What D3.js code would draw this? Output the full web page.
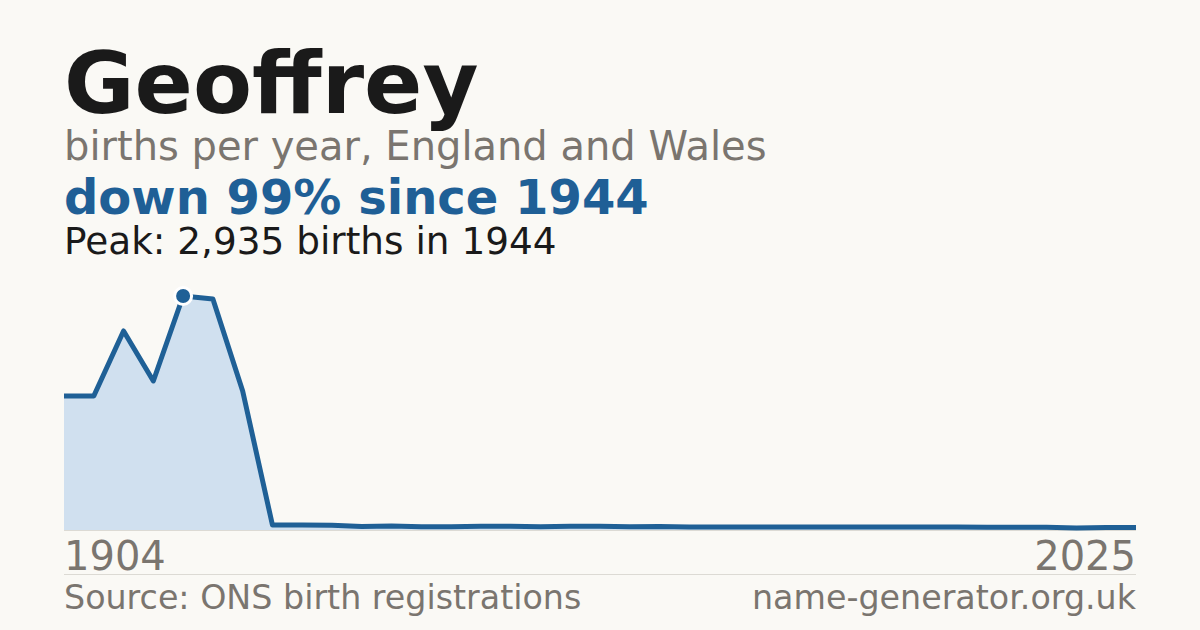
<!DOCTYPE html>
<html>
<head>
  <meta charset="UTF-8">
  <title>Geoffrey - births per year</title>
  <style>
    body { margin: 0; background: #faf9f5; }
    svg { display: block; font-family: "DejaVu Sans", sans-serif; }
  </style>
</head>
<body>
  <svg id="chart"></svg>
  <script src="https://d3js.org/d3.v7.min.js"></script>
  <script>
    // years on the x axis (evenly spaced points)
    var years = [1904, 1914, 1924, 1934, 1944, 1954, 1964, 1974, 1984, 1994,
                 1999, 2000, 2001, 2002, 2003, 2004, 2005, 2006, 2007, 2008,
                 2009, 2010, 2011, 2012, 2013, 2014, 2015, 2016, 2017, 2018,
                 2019, 2020, 2021, 2022, 2023, 2024, 2025];
    // births per year
    var births = [1681, 1681, 2497, 1869, 2935, 2898, 1744, 62, 62, 60,
                  45, 50, 42, 42, 48, 48, 40, 46, 46, 40,
                  45, 38, 38, 38, 38, 38, 38, 38, 38, 38,
                  38, 34, 34, 34, 26, 32, 32];
    var endLabels = ["1904", "2025"];

    var W = 1200, H = 630;
    var plotLeft = 64, plotRight = 1136, plotTop = 296, plotBottom = 530;

    var svg = d3.select("#chart")
      .attr("width", W)
      .attr("height", H);

    svg.append("rect")
      .attr("width", W).attr("height", H)
      .attr("fill", "#faf9f5");

    var data = years.map(function(y, i) { return {year: y, v: births[i]}; });

    var x = d3.scalePoint()
      .domain(years)
      .range([plotLeft, plotRight]);

    var y = d3.scaleLinear()
      .domain([0, d3.max(births)])
      .range([plotBottom, plotTop]);

    // 标题
    svg.append("text")
      .attr("x", plotLeft).attr("y", 113)
      .attr("font-size", 86).attr("font-weight", "bold")
      .attr("fill", "#1a1a1a")
      .text("Geoffrey");

    svg.append("text")
      .attr("x", plotLeft).attr("y", 160)
      .attr("font-size", 40)
      .attr("fill", "#7a756f")
      .text("births per year, England and Wales");

    svg.append("text")
      .attr("x", plotLeft).attr("y", 214)
      .attr("font-size", 48).attr("font-weight", "bold")
      .attr("fill", "#1f5f96")
      .text("down 99% since 1944");

    svg.append("text")
      .attr("x", plotLeft).attr("y", 254)
      .attr("font-size", 37.4)
      .attr("fill", "#1a1a1a")
      .text("Peak: 2,935 births in 1944");

    // area + line
    var area = d3.area()
      .x(function(d) { return x(d.year); })
      .y0(y(0))
      .y1(function(d) { return y(d.v); });

    var line = d3.line()
      .x(function(d) { return x(d.year); })
      .y(function(d) { return y(d.v); });

    svg.append("path")
      .datum(data)
      .attr("d", area)
      .attr("fill", "#d0e0ef");

    svg.append("line")
      .attr("x1", plotLeft).attr("x2", plotRight)
      .attr("y1", y(0) + 0.5).attr("y2", y(0) + 0.5)
      .attr("stroke", "#dcdad4").attr("stroke-width", 1);

    svg.append("path")
      .datum(data)
      .attr("d", line)
      .attr("fill", "none")
      .attr("stroke", "#1f6096")
      .attr("stroke-width", 5)
      .attr("stroke-linejoin", "round");

    // peak marker
    var peak = data[d3.maxIndex(births)];
    svg.append("circle")
      .attr("cx", x(peak.year)).attr("cy", y(peak.v))
      .attr("r", 8.5)
      .attr("fill", "#1f6096")
      .attr("stroke", "#ffffff")
      .attr("stroke-width", 3);

    // end year labels
    svg.append("text")
      .attr("x", plotLeft).attr("y", 570)
      .attr("font-size", 40).attr("fill", "#7a756f")
      .text(endLabels[0]);

    svg.append("text")
      .attr("x", plotRight).attr("y", 570)
      .attr("font-size", 40).attr("fill", "#7a756f")
      .attr("text-anchor", "end")
      .text(endLabels[1]);

    // separator
    svg.append("line")
      .attr("x1", plotLeft).attr("x2", plotRight)
      .attr("y1", 574.5).attr("y2", 574.5)
      .attr("stroke", "#dcdad4").attr("stroke-width", 1);

    // footer
    svg.append("text")
      .attr("x", plotLeft).attr("y", 609)
      .attr("font-size", 33.3).attr("fill", "#7a756f")
      .text("Source: ONS birth registrations");

    svg.append("text")
      .attr("x", plotRight).attr("y", 609)
      .attr("font-size", 33.3).attr("fill", "#7a756f")
      .attr("text-anchor", "end")
      .text("name-generator.org.uk");
  </script>
</body>
</html>
